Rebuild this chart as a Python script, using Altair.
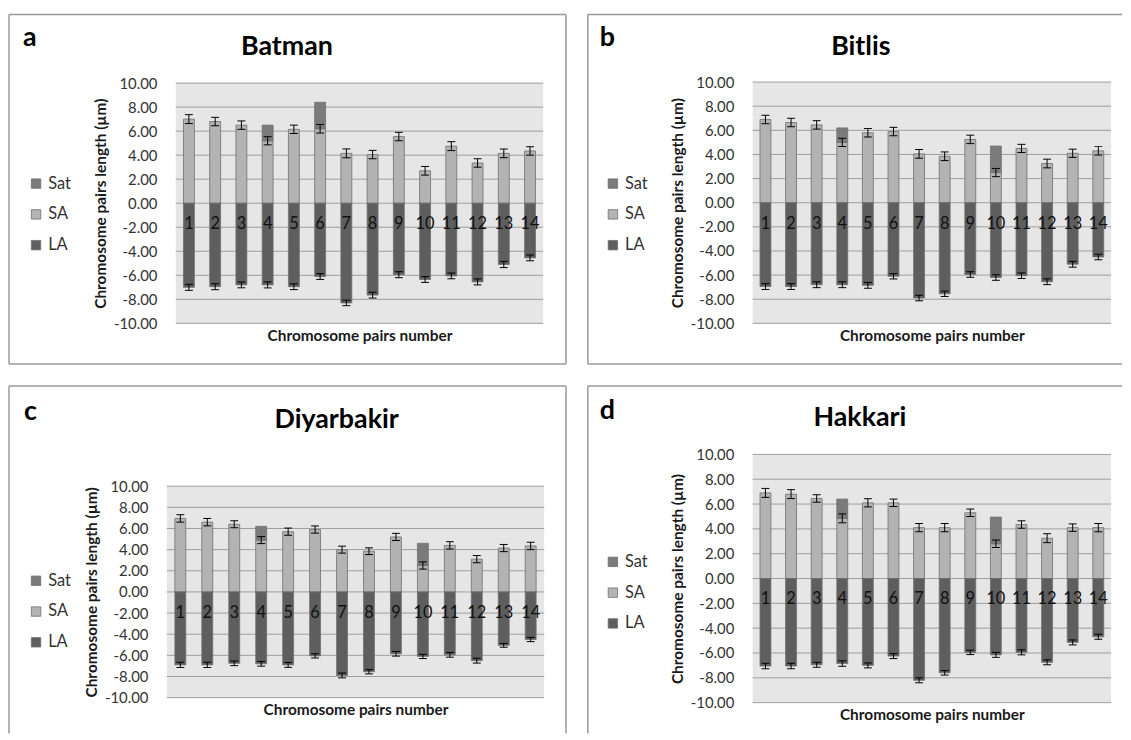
import altair as alt
import pandas as pd

FONT = "Lato"
PAIRS = list(range(1, 15))
PARTS = ["Sat", "SA", "LA"]
PART_COLORS = ["#7b7b7b", "#b3b3b3", "#5e5e5e"]
REGIONS = ["Batman", "Bitlis", "Diyarbakir", "Hakkari"]
LETTERS = ["a", "b", "c", "d"]
Y_TICKS = [-10, -8, -6, -4, -2, 0, 2, 4, 6, 8, 10]
X_TITLE = "Chromosome pairs number"
Y_TITLE = "Chromosome pairs length (µm)"

# Batman
SA_BATMAN = [7.0, 6.8, 6.5, 5.2, 6.15, 6.2, 4.15, 4.05, 5.55, 2.7, 4.75, 3.35, 4.15, 4.35]
SAT_BATMAN = [0, 0, 0, 1.3, 0, 2.2, 0, 0, 0, 0, 0, 0, 0, 0]
LA_BATMAN = [7.0, 6.95, 6.8, 6.8, 6.95, 6.1, 8.3, 7.65, 5.95, 6.35, 6.05, 6.55, 5.1, 4.55]
SA_ERR_BATMAN = [0.37, 0.35, 0.35, 0.34, 0.35, 0.36, 0.37, 0.35, 0.35, 0.36, 0.37, 0.35, 0.36, 0.35]
LA_ERR_BATMAN = [0.25, 0.25, 0.24, 0.25, 0.24, 0.24, 0.23, 0.24, 0.25, 0.24, 0.24, 0.25, 0.26, 0.24]

# Bitlis
SA_BITLIS = [6.9, 6.65, 6.45, 5.0, 5.8, 5.9, 4.05, 3.85, 5.25, 2.5, 4.5, 3.25, 4.1, 4.3]
SAT_BITLIS = [0, 0, 0, 1.2, 0, 0, 0, 0, 0, 2.2, 0, 0, 0, 0]
LA_BITLIS = [6.95, 6.95, 6.8, 6.8, 6.85, 6.1, 7.9, 7.55, 5.95, 6.2, 6.05, 6.55, 5.1, 4.5]
SA_ERR_BITLIS = [0.35, 0.35, 0.35, 0.34, 0.35, 0.35, 0.36, 0.36, 0.35, 0.34, 0.34, 0.36, 0.34, 0.35]
LA_ERR_BITLIS = [0.24, 0.24, 0.24, 0.24, 0.24, 0.22, 0.23, 0.22, 0.23, 0.23, 0.23, 0.24, 0.24, 0.22]

# Diyarbakir
SA_DIYARBAKIR = [6.95, 6.6, 6.4, 4.9, 5.7, 5.9, 4.0, 3.85, 5.2, 2.5, 4.4, 3.1, 4.15, 4.35]
SAT_DIYARBAKIR = [0, 0, 0, 1.3, 0, 0, 0, 0, 0, 2.1, 0, 0, 0, 0]
LA_DIYARBAKIR = [6.9, 6.9, 6.75, 6.8, 6.9, 6.05, 7.9, 7.55, 5.85, 6.1, 5.95, 6.5, 5.05, 4.5]
SA_ERR_DIYARBAKIR = [0.35, 0.35, 0.33, 0.33, 0.34, 0.34, 0.33, 0.32, 0.34, 0.34, 0.35, 0.34, 0.34, 0.35]
LA_ERR_DIYARBAKIR = [0.25, 0.25, 0.22, 0.22, 0.23, 0.2, 0.23, 0.2, 0.22, 0.2, 0.22, 0.23, 0.18, 0.2]

# Hakkari
SA_HAKKARI = [6.9, 6.8, 6.45, 4.85, 6.1, 6.1, 4.1, 4.1, 5.3, 2.8, 4.35, 3.25, 4.1, 4.1]
SAT_HAKKARI = [0, 0, 0, 1.55, 0, 0, 0, 0, 0, 2.15, 0, 0, 0, 0]
LA_HAKKARI = [7.05, 7.05, 6.95, 6.85, 7.0, 6.25, 8.2, 7.6, 5.95, 6.15, 5.95, 6.75, 5.15, 4.7]
SA_ERR_HAKKARI = [0.36, 0.36, 0.3, 0.36, 0.33, 0.3, 0.33, 0.33, 0.3, 0.3, 0.3, 0.36, 0.3, 0.33]
LA_ERR_HAKKARI = [0.22, 0.22, 0.2, 0.22, 0.2, 0.2, 0.2, 0.18, 0.18, 0.2, 0.2, 0.2, 0.2, 0.2]

DATA = [
    (SA_BATMAN, SAT_BATMAN, LA_BATMAN, SA_ERR_BATMAN, LA_ERR_BATMAN),
    (SA_BITLIS, SAT_BITLIS, LA_BITLIS, SA_ERR_BITLIS, LA_ERR_BITLIS),
    (SA_DIYARBAKIR, SAT_DIYARBAKIR, LA_DIYARBAKIR, SA_ERR_DIYARBAKIR, LA_ERR_DIYARBAKIR),
    (SA_HAKKARI, SAT_HAKKARI, LA_HAKKARI, SA_ERR_HAKKARI, LA_ERR_HAKKARI),
]

# Layout of each panel (pixels inside the panel box)
GEOM = [
    dict(W=561, H=352, xr=[163, 543], yr=[311, 69], leg=(19, 162), title=(280, 41), letter=(14, 32),
         sides=["top", "left", "right", "bottom"]),
    dict(W=538, H=352, xr=[161, 532], yr=[311, 68], leg=(17, 162), title=(275, 41), letter=(12, 32),
         sides=["top", "left", "bottom"]),
    dict(W=561, H=350, xr=[154, 544], yr=[314, 101], leg=(19, 188), title=(330, 42), letter=(15, 34),
         sides=["top", "left", "right"]),
    dict(W=538, H=350, xr=[161, 532], yr=[319, 69], leg=(17, 169), title=(274, 40), letter=(12, 33),
         sides=["top", "left"]),
]

BG = "#e6e6e6"
GRID = "#9e9e9e"
BORDER = "#9a9a9a"


def panel(i):
    sa, sat, la, sa_err, la_err = DATA[i]
    g = GEOM[i]
    W, H, xr, yr = g["W"], g["H"], g["xr"], g["yr"]
    xmin, xmax = PAIRS[0] - 0.5, PAIRS[-1] + 0.5
    ymin, ymax = min(Y_TICKS), max(Y_TICKS)
    xs = alt.Scale(domain=[xmin, xmax], range=xr, zero=False, nice=False)
    ys = alt.Scale(domain=[ymin, ymax], range=yr, zero=False, nice=False)
    xaxis = alt.Axis(
        title=X_TITLE, labels=False, ticks=False, domain=False, grid=False,
        offset=-(H - yr[0]), minExtent=0, titlePadding=5,
        titleFont=FONT, titleFontSize=15.5, titleFontWeight="bold", titleColor="#1a1a1a")
    yaxis = alt.Axis(
        title=Y_TITLE, values=Y_TICKS,
        labelExpr="(datum.value < 0 ? '-' : '') + format(abs(datum.value), '.2f')",
        grid=False, ticks=False, domain=False, labelPadding=14, offset=-xr[0],
        minExtent=55, maxExtent=55, titlePadding=8, labelOverlap=False, labelFlush=False,
        labelFont=FONT, labelFontSize=15, labelColor="#333333",
        titleFont=FONT, titleFontSize=15.5, titleFontWeight="bold", titleColor="#1a1a1a")

    def X(f):
        return alt.X(f, scale=xs, axis=xaxis)

    def Y(f):
        return alt.Y(f, scale=ys, axis=yaxis)

    bg_df = pd.DataFrame({"x0": [xmin], "x1": [xmax], "y0": [ymin], "y1": [ymax]})
    bg = alt.Chart(bg_df).mark_rect(fill=BG).encode(x=X("x0:Q"), x2="x1", y=Y("y0:Q"), y2="y1")

    grid_df = pd.DataFrame({"t": Y_TICKS, "x0": xmin, "x1": xmax})
    grid = alt.Chart(grid_df).mark_rule(color=GRID, strokeWidth=1).encode(
        x=X("x0:Q"), x2="x1", y=Y("t:Q"))

    rows = []
    for k, p in enumerate(PAIRS):
        rows.append({"pair": p, "part": "SA", "y0": 0.0, "y1": sa[k]})
        if sat[k] > 0:
            rows.append({"pair": p, "part": "Sat", "y0": sa[k], "y1": sa[k] + sat[k]})
        rows.append({"pair": p, "part": "LA", "y0": 0.0, "y1": -la[k]})
    bar_df = pd.DataFrame(rows)
    bars = alt.Chart(bar_df).mark_bar(size=11, stroke="#6f6f6f", strokeWidth=0.8).encode(
        x=X("pair:Q"), y=Y("y0:Q"), y2="y1",
        color=alt.Color("part:N", scale=alt.Scale(domain=PARTS, range=PART_COLORS),
                        legend=alt.Legend(title=None, orient="none", legendX=g["leg"][0], legendY=g["leg"][1],
                                          symbolType="square", symbolSize=90, symbolStrokeColor="#6f6f6f",
                                          symbolStrokeWidth=0.8, labelFont=FONT, labelFontSize=16.5,
                                          labelColor="#333333", rowPadding=14, labelOffset=4, padding=0)),
    )

    err_rows = []
    cap_rows = []
    for k, p in enumerate(PAIRS):
        for c, e in ((sa[k], sa_err[k]), (-la[k], la_err[k])):
            err_rows.append({"pair": p, "lo": c - e, "hi": c + e})
            cap_rows.append({"pair": p, "v": c - e})
            cap_rows.append({"pair": p, "v": c + e})
    err = alt.Chart(pd.DataFrame(err_rows)).mark_rule(color="#000000", strokeWidth=1).encode(
        x=X("pair:Q"), y=Y("lo:Q"), y2="hi")
    caps = alt.Chart(pd.DataFrame(cap_rows)).mark_tick(
        orient="horizontal", size=8, thickness=1, color="#000000", opacity=1).encode(
        x=X("pair:Q"), y=Y("v:Q"))

    num_df = pd.DataFrame({"pair": PAIRS, "zero": 0.0, "lab": [str(p) for p in PAIRS]})
    nums = alt.Chart(num_df).mark_text(dy=21, baseline="middle", align="center", font=FONT,
                                       fontSize=16.5, color="#111111").encode(
        x=X("pair:Q"), y=Y("zero:Q"), text="lab:N")

    title = alt.Chart(pd.DataFrame({"t": [REGIONS[i]]})).mark_text(
        font=FONT, fontSize=27, fontWeight="bold", align="center", baseline="alphabetic", color="#000000"
    ).encode(x=alt.value(g["title"][0]), y=alt.value(g["title"][1]), text="t:N")
    letter = alt.Chart(pd.DataFrame({"t": [LETTERS[i]]})).mark_text(
        font=FONT, fontSize=27, fontWeight="bold", align="left", baseline="alphabetic", color="#000000"
    ).encode(x=alt.value(g["letter"][0]), y=alt.value(g["letter"][1]), text="t:N")

    one = pd.DataFrame({"d": [0]})
    borders = []
    for s in g["sides"]:
        r = alt.Chart(one).mark_rule(color=BORDER, strokeWidth=1.5)
        if s == "top":
            r = r.encode(x=alt.value(0), x2=alt.value(W), y=alt.value(0))
        elif s == "bottom":
            r = r.encode(x=alt.value(0), x2=alt.value(W), y=alt.value(H))
        elif s == "left":
            r = r.encode(x=alt.value(0), y=alt.value(0), y2=alt.value(H))
        else:
            r = r.encode(x=alt.value(W), y=alt.value(0), y2=alt.value(H))
        borders.append(r)

    return alt.layer(bg, grid, bars, err, caps, nums, title, letter, *borders).properties(width=W, height=H)


row1 = alt.hconcat(panel(0), panel(1), spacing=20).resolve_scale(color="independent").resolve_legend(color="independent")
row2 = alt.hconcat(panel(2), panel(3), spacing=20).resolve_scale(color="independent").resolve_legend(color="independent")
chart = (
    alt.vconcat(row1, row2, spacing=20)
    .resolve_scale(color="independent")
    .resolve_legend(color="independent")
    .properties(padding={"top": 3, "left": 0, "right": 0, "bottom": 0})
    .configure_view(stroke=None)
)

chart.save("out.html", embed_options={"renderer": "svg", "actions": False})
